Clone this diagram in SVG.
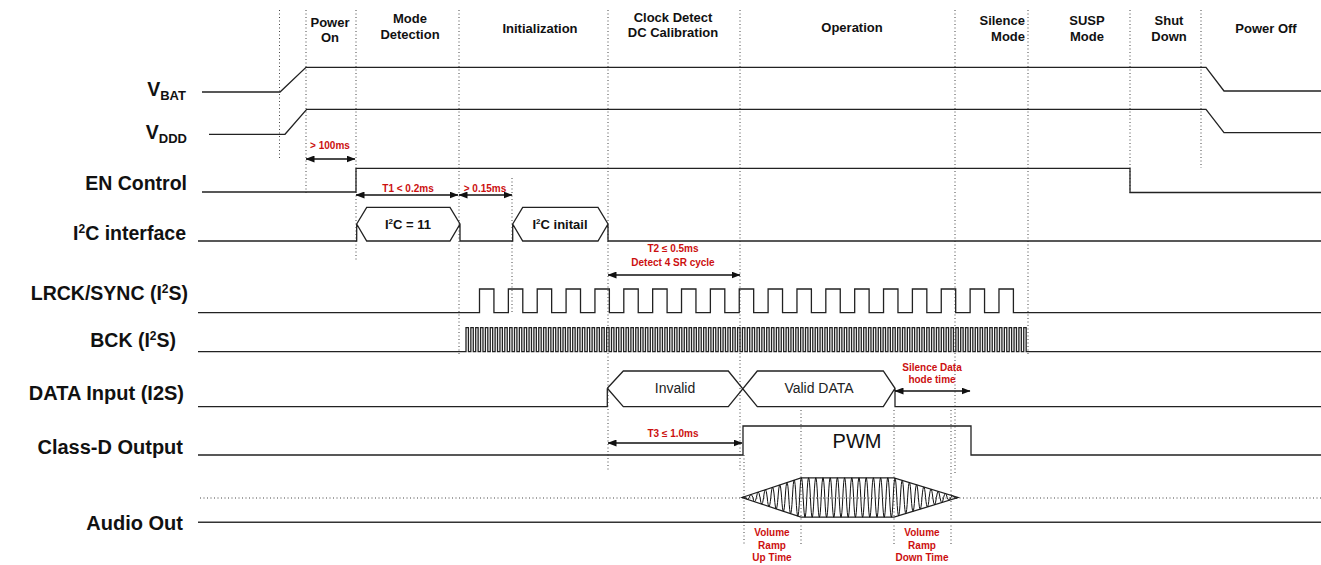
<svg xmlns="http://www.w3.org/2000/svg" width="1321" height="565" viewBox="0 0 1321 565">
<style>
text{font-family:"Liberation Sans",Arial,sans-serif}
.hd{font-size:13px;font-weight:bold;text-anchor:middle;fill:#111}
.lb{font-size:19.5px;font-weight:bold;text-anchor:end;fill:#111}
.lb2{font-size:20px;font-weight:bold;text-anchor:end;fill:#111}
.rd{font-size:10px;font-weight:bold;text-anchor:middle;fill:#cc1010}
.in{font-size:13px;font-weight:bold;text-anchor:middle;fill:#111}
.dt{font-size:14px;text-anchor:middle;fill:#222}
.sig{fill:none;stroke:#222;stroke-width:1.3}
.dot{fill:none;stroke:#444;stroke-width:1;stroke-dasharray:1 2.5}
.arr{stroke:#111;stroke-width:1.3;marker-start:url(#ah);marker-end:url(#ah)}
</style>
<defs>
<marker id="ah" markerWidth="9" markerHeight="7" refX="8.5" refY="3.5" orient="auto-start-reverse" markerUnits="userSpaceOnUse">
<path d="M0,0 L9,3.5 L0,7 z" fill="#111"/>
</marker>
</defs>
<rect width="1321" height="565" fill="#fff"/>

<g id="grid">
<path class="dot" d="M279.5,10V160 M306,10V195 M356,10V262 M459,10V355 M512,178V312 M608,10V470 M740,10V470 M744,455V545 M801,410V545 M894,410V545 M951,410V545 M955,10V475 M1028,10V355 M1130,10V195 M1201,10V168 M200,498H1321"/>
</g>

<g id="phases">
<text class="hd" x="330" y="27">Power</text><text class="hd" x="330" y="42">On</text>
<text class="hd" x="410" y="23">Mode</text><text class="hd" x="410" y="38.5">Detection</text>
<text class="hd" x="540" y="33">Initialization</text>
<text class="hd" x="673" y="22">Clock Detect</text><text class="hd" x="673" y="37">DC Calibration</text>
<text class="hd" x="852" y="32">Operation</text>
<text class="hd" x="1025" y="25" style="text-anchor:end">Silence</text><text class="hd" x="1025" y="41" style="text-anchor:end">Mode</text>
<text class="hd" x="1087" y="25">SUSP</text><text class="hd" x="1087" y="41">Mode</text>
<text class="hd" x="1169" y="25">Shut</text><text class="hd" x="1169" y="41">Down</text>
<text class="hd" x="1266" y="33">Power Off</text>
</g>

<g id="vbat">
<text class="lb" x="186" y="96">V<tspan font-size="13" dy="4">BAT</tspan></text>
<path class="sig" d="M202,92H280L306,67.3H1206L1224,91H1321"/>
</g>
<g id="vddd">
<text class="lb" x="187" y="139">V<tspan font-size="13" dy="4">DDD</tspan></text>
<path class="sig" d="M209,134.3H285L306.7,109.3H1206L1224,132.7H1321"/>
</g>
<g id="en">
<text class="lb" x="187" y="190">EN Control</text>
<path class="sig" d="M202,192H356V168.3H1130V192.5H1321"/>
</g>
<g id="i2c">
<text class="lb" x="186" y="240">I<tspan font-size="12" dy="-7.5">2</tspan><tspan dy="7.5">C interface</tspan></text>
<path class="sig" d="M198,241H356.7V224 M356.7,224L366.7,207.3H450L460,224L450,241H366.7Z M460,224V241H512.7V224 M512.7,224L522.7,207.3H598L608,224L598,241H522.7Z M608,224V241H1321"/>
<text class="in" x="408" y="228.7">I<tspan font-size="8" dy="-5">2</tspan><tspan dy="5">C = 11</tspan></text>
<text class="in" x="560" y="228.7">I<tspan font-size="8" dy="-5">2</tspan><tspan dy="5">C initail</tspan></text>
</g>
<g id="lrck">
<text class="lb" x="188" y="300">LRCK/SYNC (I<tspan font-size="12" dy="-7.5">2</tspan><tspan dy="7.5">S)</tspan></text>
<path class="sig" d="M198,312.7H479.5
v-23.7h14.43v23.7h14.43v-23.7h14.43v23.7h14.43v-23.7h14.43v23.7h14.43v-23.7h14.43v23.7h14.43v-23.7h14.43v23.7h14.43
v-23.7h14.43v23.7h14.43v-23.7h14.43v23.7h14.43v-23.7h14.43v23.7h14.43v-23.7h14.43v23.7h14.43v-23.7h14.43v23.7h14.43
v-23.7h14.43v23.7h14.43v-23.7h14.43v23.7h14.43v-23.7h14.43v23.7h14.43v-23.7h14.43v23.7h14.43v-23.7h14.43v23.7h14.43
v-23.7h14.43v23.7h14.43v-23.7h14.43v23.7h14.43v-23.7h14.43v23.7h14.43
v-23.7h14.43v23.7H1321"/>
</g>
<g id="bck">
<text class="lb" x="176" y="347">BCK (I<tspan font-size="12" dy="-7.5">2</tspan><tspan dy="7.5">S)</tspan></text>
<path class="sig" d="M198,351.7H466
v-24h2.42v24h2.43v-24h2.42v24h2.43v-24h2.42v24h2.43v-24h2.42v24h2.43v-24h2.42v24h2.43v-24h2.42v24h2.43v-24h2.42v24h2.43v-24h2.42v24h2.43v-24h2.42v24h2.43v-24h2.42v24h2.43
v-24h2.42v24h2.43v-24h2.42v24h2.43v-24h2.42v24h2.43v-24h2.42v24h2.43v-24h2.42v24h2.43v-24h2.42v24h2.43v-24h2.42v24h2.43v-24h2.42v24h2.43v-24h2.42v24h2.43v-24h2.42v24h2.43
v-24h2.42v24h2.43v-24h2.42v24h2.43v-24h2.42v24h2.43v-24h2.42v24h2.43v-24h2.42v24h2.43v-24h2.42v24h2.43v-24h2.42v24h2.43v-24h2.42v24h2.43v-24h2.42v24h2.43v-24h2.42v24h2.43
v-24h2.42v24h2.43v-24h2.42v24h2.43v-24h2.42v24h2.43v-24h2.42v24h2.43v-24h2.42v24h2.43v-24h2.42v24h2.43v-24h2.42v24h2.43v-24h2.42v24h2.43v-24h2.42v24h2.43v-24h2.42v24h2.43
v-24h2.42v24h2.43v-24h2.42v24h2.43v-24h2.42v24h2.43v-24h2.42v24h2.43v-24h2.42v24h2.43v-24h2.42v24h2.43v-24h2.42v24h2.43v-24h2.42v24h2.43v-24h2.42v24h2.43v-24h2.42v24h2.43
v-24h2.42v24h2.43v-24h2.42v24h2.43v-24h2.42v24h2.43v-24h2.42v24h2.43v-24h2.42v24h2.43v-24h2.42v24h2.43v-24h2.42v24h2.43v-24h2.42v24h2.43v-24h2.42v24h2.43v-24h2.42v24h2.43
v-24h2.42v24h2.43v-24h2.42v24h2.43v-24h2.42v24h2.43v-24h2.42v24h2.43v-24h2.42v24h2.43v-24h2.42v24h2.43v-24h2.42v24h2.43v-24h2.42v24h2.43v-24h2.42v24h2.43v-24h2.42v24h2.43
v-24h2.42v24h2.43v-24h2.42v24h2.43v-24h2.42v24h2.43v-24h2.42v24h2.43v-24h2.42v24h2.43v-24h2.42v24h2.43v-24h2.42v24h2.43v-24h2.42v24h2.43v-24h2.42v24h2.43v-24h2.42v24h2.43
v-24h2.42v24h2.43v-24h2.42v24h2.43v-24h2.42v24h2.43v-24h2.42v24h2.43v-24h2.42v24h2.43v-24h2.42v24h2.43v-24h2.42v24h2.43v-24h2.42v24h2.43v-24h2.42v24h2.43v-24h2.42v24h2.43
v-24h2.42v24h2.43v-24h2.42v24h2.43v-24h2.42v24h2.43v-24h2.42v24h2.43v-24h2.42v24h2.43v-24h2.42v24h2.43v-24h2.42v24h2.43v-24h2.42v24h2.43v-24h2.42v24h2.43v-24h2.42v24h2.43
v-24h2.42v24h2.43v-24h2.42v24h2.43v-24h2.42v24h2.43v-24h2.42v24h2.43v-24h2.42v24h2.43v-24h2.42v24h2.43v-24h2.42v24h2.43v-24h2.42v24h2.43v-24h2.42v24h2.43v-24h2.42v24h2.43
v-24h2.42v24h2.43v-24h2.42v24h2.43v-24h2.42v24h2.43v-24h2.42v24h2.43v-24h2.42v24h2.43v-24h2.42v24
H1321"/>
</g>
<g id="data">
<text class="lb2" x="184" y="400">DATA Input (I2S)</text>
<path class="sig" d="M198,406.7H607.3V388.3 M607.3,388.3L623.3,371H728.3L757.3,406.7H883.3L895,388.3 M607.3,388.3L623.3,406.7H728.3L757.3,371H883.3L895,388.3V406.7H1321"/>
<text class="dt" x="675" y="393">Invalid</text>
<text class="dt" x="819" y="393">Valid DATA</text>
</g>
<g id="classd">
<text class="lb2" x="183" y="454">Class-D Output</text>
<path class="sig" d="M198,455H743V426H971V455H1321"/>
<text x="857" y="448" style="font-size:20px;text-anchor:middle;fill:#111">PWM</text>
</g>
<g id="audio">
<text class="lb2" x="183" y="530">Audio Out</text>
<path d="M198,522.3H1321" fill="none" stroke="#333" stroke-width="1.5"/>
<path class="sig" stroke-width="1.2" d="M742,497.5L801,477.8H894L958,497.5L894,517.2H801Z"/>
<path fill="none" stroke="#111" stroke-width="1" d="M742,497.5q1.8,-1.2 3.6,0q1.8,3.6 3.6,0q1.8,-6 3.6,0q1.8,8.4 3.6,0q1.8,-10.8 3.6,0q1.8,13.2 3.6,0q1.8,-15.6 3.6,0q1.8,18 3.6,0q1.8,-20.4 3.6,0q1.8,22.8 3.6,0q1.8,-25.2 3.6,0q1.8,27.6 3.6,0q1.8,-30 3.6,0q1.8,32.5 3.6,0q1.8,-34.9 3.6,0q1.8,37.3 3.6,0q1.8,-39.4 3.6,0q1.8,39.4 3.6,0q1.8,-39.4 3.6,0q1.8,39.4 3.6,0q1.8,-39.4 3.6,0q1.8,39.4 3.6,0q1.8,-39.4 3.6,0q1.8,39.4 3.6,0q1.8,-39.4 3.6,0q1.8,39.4 3.6,0q1.8,-39.4 3.6,0q1.8,39.4 3.6,0q1.8,-39.4 3.6,0q1.8,39.4 3.6,0q1.8,-39.4 3.6,0q1.8,39.4 3.6,0q1.8,-39.4 3.6,0q1.8,39.4 3.6,0q1.8,-39.4 3.6,0q1.8,39.4 3.6,0q1.8,-39.4 3.6,0q1.8,39.4 3.6,0q1.8,-39.4 3.6,0q1.8,39.4 3.6,0q1.8,-39.4 3.6,0q1.8,39.4 3.6,0q1.8,-38.8 3.6,0q1.8,36.6 3.6,0q1.8,-34.3 3.6,0q1.8,32.1 3.6,0q1.8,-29.9 3.6,0q1.8,27.7 3.6,0q1.8,-25.5 3.6,0q1.8,23.3 3.6,0q1.8,-21.1 3.6,0q1.8,18.8 3.6,0q1.8,-16.6 3.6,0q1.8,14.4 3.6,0q1.8,-12.2 3.6,0q1.8,10 3.6,0q1.8,-7.8 3.6,0q1.8,5.5 3.6,0q1.8,-3.3 3.6,0q1.8,1.1 3.6,0"/>
<text class="rd" x="772" y="536">Volume</text><text class="rd" x="772" y="548.5">Ramp</text><text class="rd" x="772" y="561">Up Time</text>
<text class="rd" x="922" y="536">Volume</text><text class="rd" x="922" y="548.5">Ramp</text><text class="rd" x="922" y="561">Down Time</text>
</g>

<g id="arrows">
<line class="arr" x1="306" y1="159" x2="355" y2="159"/>
<line class="arr" x1="356" y1="195" x2="458" y2="195"/>
<line class="arr" x1="459" y1="195" x2="512" y2="195"/>
<line class="arr" x1="608" y1="275" x2="740" y2="275"/>
<line class="arr" x1="608" y1="443" x2="742" y2="443"/>
<line class="arr" x1="895" y1="391" x2="970" y2="391"/>
<text class="rd" x="330" y="148.5">&gt; 100ms</text>
<text class="rd" x="408" y="192">T1 &lt; 0.2ms</text>
<text class="rd" x="485" y="192">&gt; 0.15ms</text>
<text class="rd" x="673" y="251.5">T2 ≤ 0.5ms</text>
<text class="rd" x="673" y="265.5">Detect 4 SR cycle</text>
<text class="rd" x="932" y="371">Silence Data</text>
<text class="rd" x="932" y="382.5">hode time</text>
<text class="rd" x="673" y="436.5">T3 ≤ 1.0ms</text>
</g>
</svg>
